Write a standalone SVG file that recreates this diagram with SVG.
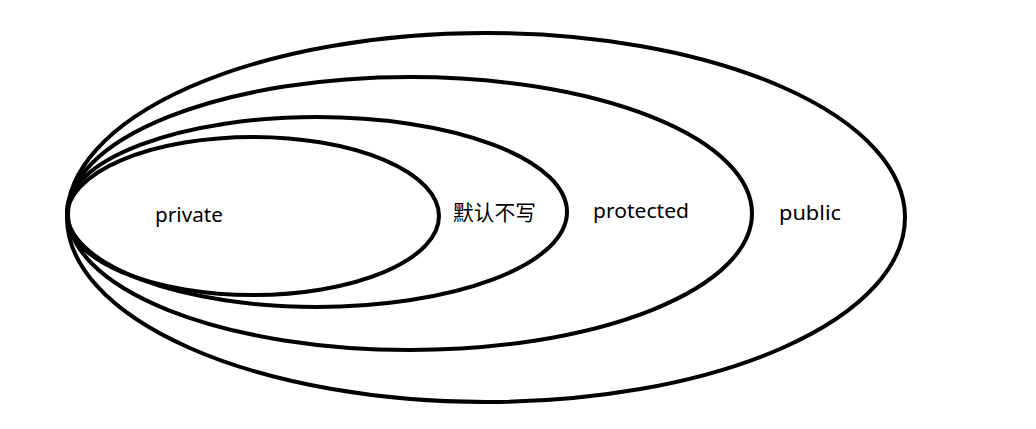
<svg xmlns="http://www.w3.org/2000/svg" width="1036" height="429" viewBox="0 0 1036 429">
<style>
.ring{fill:none;stroke:#000;stroke-width:4}
.lbl{font-family:"Microsoft YaHei","Noto Sans","Noto Sans CJK SC",sans-serif;font-size:20px;fill:#000}
.cjk{font-family:"Noto Sans CJK SC","Noto Sans",sans-serif;font-size:21px;fill:#000}
</style>
<rect width="1036" height="429" fill="#fff"/>
<g id="public">
<ellipse class="ring" cx="486" cy="217.5" rx="419" ry="184.5"/>
<text class="lbl" x="779" y="220" textLength="62" lengthAdjust="spacingAndGlyphs">public</text>
</g>
<g id="protected">
<ellipse class="ring" cx="410" cy="213.5" rx="342" ry="136.5"/>
<text class="lbl" x="593" y="218" textLength="96" lengthAdjust="spacingAndGlyphs">protected</text>
</g>
<g id="default">
<ellipse class="ring" cx="317" cy="212" rx="250" ry="95"/>
<text class="cjk" x="453" y="220" textLength="83" lengthAdjust="spacingAndGlyphs">默认不写</text>
</g>
<g id="private">
<ellipse class="ring" cx="253" cy="216" rx="186" ry="79"/>
<text class="lbl" x="155" y="222" textLength="68" lengthAdjust="spacingAndGlyphs">private</text>
</g>
<g id="connectors"></g>
</svg>
